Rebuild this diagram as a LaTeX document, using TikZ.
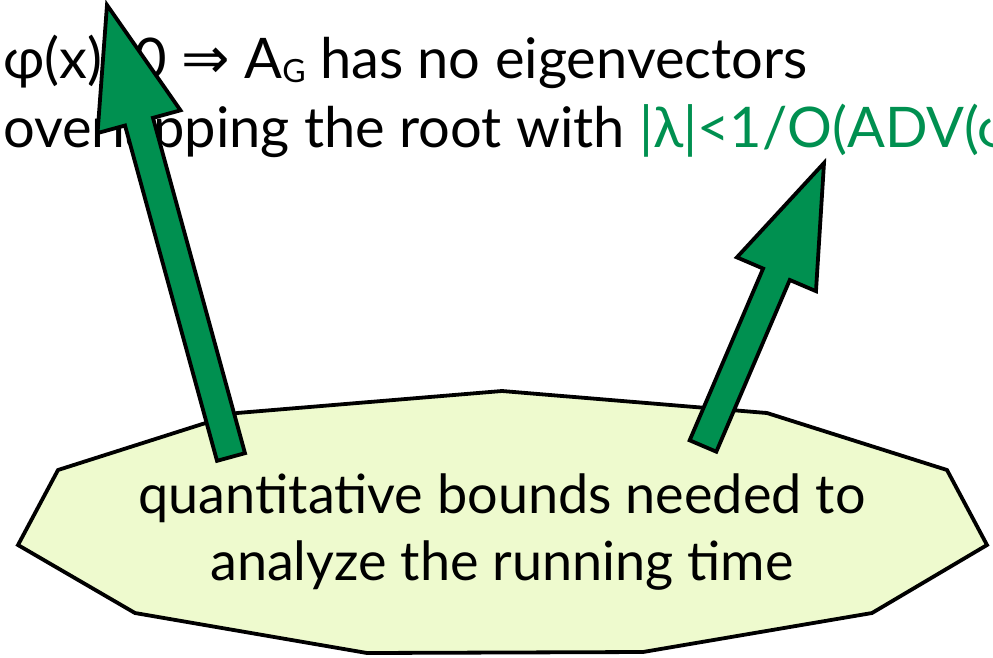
\documentclass[tikz,border=0pt]{standalone}
\usepackage{fontspec}
\setmainfont{Lato}
\newfontfamily\symfont{DejaVu Sans}
\usetikzlibrary{calc}
\definecolor{agreen}{RGB}{0,144,80}
\definecolor{blobfill}{RGB}{238,250,206}
\newcommand\fatarrow[2]{%
  \coordinate (#1h) at ($(#2)!121pt!(#1)$);
  \draw[fatarr] ($(#1)!14.5pt!90:(#2)$) -- ($(#1h)!14.5pt!90:(#2)$) -- ($(#1h)!43pt!90:(#2)$) -- (#2)
    -- ($(#1h)!43pt!-90:(#2)$) -- ($(#1h)!14.5pt!-90:(#2)$) -- ($(#1)!14.5pt!-90:(#2)$) -- cycle;}
\begin{document}
\begin{tikzpicture}[x=1pt,y=-1pt,
  fatarr/.style={draw=black,line width=3.8pt,fill=agreen},
  blob/.style={draw=black,line width=3.8pt,fill=blobfill},
  toptext/.style={anchor=base west,inner sep=0pt,font=\fontsize{56}{60}\selectfont},
  bottext/.style={anchor=base,inner sep=0pt,font=\fontsize{54}{60}\selectfont}]
\useasboundingbox (0,0) rectangle (993,657);
\clip (0,0) rectangle (993,657);
% blob
\draw[blob] (18,545) -- (58,470) -- (237,413) -- (502,391) -- (767,413) -- (947,470) -- (987,545)
  -- (872,613) -- (643,652) -- (367,653) -- (135,613) -- cycle;
\node[bottext] (b1) at (502,513) {quantitative bounds needed to};
\node[bottext] (b2) at (502,580) {analyze the running time};
% top text
\node[toptext] (t1) at (3,78) {φ(x)=0 {\symfont\fontsize{58}{60}\selectfont ⇒} A{\fontsize{32}{34}\selectfont\raisebox{-4pt}{G}} has no eigenvectors};
\node[toptext] (t2) at (3,147) {overlapping the root with \textcolor{agreen}{|λ|<1/O(ADV(φ}};
% arrows
\coordinate (a1) at (231,457);
\coordinate (p1) at (107,5);
\coordinate (a2) at (703,446);
\coordinate (p2) at (824,163);
\fatarrow{a1}{p1}
\fatarrow{a2}{p2}
\end{tikzpicture}
\end{document}
